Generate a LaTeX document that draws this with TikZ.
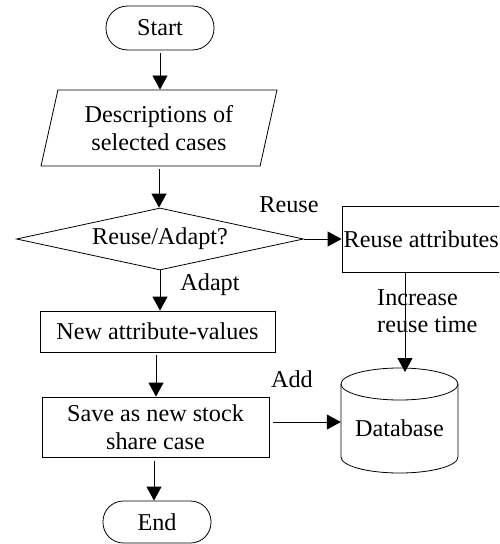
\documentclass[tikz,border=0pt]{standalone}
\usepackage{fontspec}
\setmainfont{Liberation Serif}
\usetikzlibrary{arrows.meta,shapes.geometric}
\begin{document}
\begin{tikzpicture}[x=1pt,y=-1pt,
  every node/.style={font=\fontsize{24.2pt}{27.5pt}\selectfont, inner sep=0pt},
  line/.style={line width=0.8pt},
  flow/.style={line, -{Triangle[length=14pt,width=15pt]}},
  terminal/.style={draw, line width=0.8pt, rounded corners=21.5pt, minimum width=108pt, minimum height=44pt},
  process/.style={draw, line width=0.8pt, align=center},
  io/.style={draw, line width=0.8pt, shape=trapezium, trapezium left angle=74.5, trapezium right angle=105.5,
             trapezium stretches=true, minimum width=236pt, minimum height=76pt, align=center},
  decision/.style={draw, line width=0.8pt, shape=diamond, aspect=4.6, minimum width=287pt, minimum height=62pt},
  label/.style={}
]
\clip (0,0) rectangle (499,544);

% nodes
\node[terminal] (start) at (160,28) {Start};
\node[io] (desc) at (159,128) {Descriptions of\\selected cases};
\node[decision] (dec) at (160,239) {Reuse/Adapt?};
\node[process, minimum width=158.5pt, minimum height=66pt] (reuse) at (421.25,239) {Reuse attributes};
\node[process, minimum width=235pt, minimum height=41pt] (newval) at (157.5,331.5) {New attribute-values};
\node[process, minimum width=227pt, minimum height=60pt] (save) at (155.5,427) {Save as new stock\\share case};
\node[terminal, minimum height=42pt, rounded corners=20.5pt] (end) at (157,522) {End};

% database cylinder
\node[minimum width=117pt, minimum height=90pt] (db) at (399.5,428) {Database};
\draw[line] (399.5,384) ellipse [x radius=58.5pt, y radius=16pt];
\draw[line] (341,384) -- (341,457) arc [start angle=180, end angle=360, x radius=58.5pt, y radius=16pt] -- (458,384);

% connectors
\draw[flow, shorten <=3pt] (start.south) -- (start.south |- desc.north);
\draw[flow, shorten <=3pt] (desc.south) -- (desc.south |- dec.north);
\draw[flow] (dec.east) -- (reuse.west |- dec.east);
\draw[flow] (dec.south) -- (dec.south |- newval.north);
\draw[flow, shorten <=3pt] ([xshift=-1.5pt]newval.south) -- ([xshift=-1.5pt]newval.south |- save.north);
\draw[flow, shorten <=4pt] ([xshift=-1.5pt]save.south) -- ([xshift=-1.5pt]save.south |- end.north);
\draw[flow, shorten <=4pt] ([yshift=5pt]save.east) -- ([yshift=5pt]db.west |- save.east);
\coordinate (dbtop) at (405,372);
\draw[flow] (reuse.south -| dbtop) -- (dbtop);

% labels
\node[label] (lreuse) at (289,205) {Reuse};
\node[label] (ladapt) at (210,285) {Adapt};
\node[label, align=left, anchor=west] (lincr) at (377,311) {Increase\\reuse time};
\node[label] (ladd) at (292,379) {Add};
\end{tikzpicture}
\end{document}
